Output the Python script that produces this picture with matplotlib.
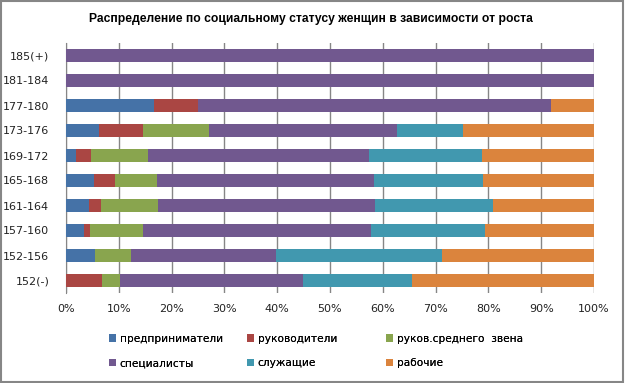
import matplotlib
matplotlib.use("Agg")
from matplotlib import pyplot as plt
from matplotlib.patches import Rectangle
import numpy as np

# height groups, bottom to top as drawn
groups = ["152(-)", "152-156", "157-160", "161-164", "165-168",
          "169-172", "173-176", "177-180", "181-184", "185(+)"]

series = ["предприниматели", "руководители", "руков.среднего  звена",
          "специалисты", "служащие", "рабочие"]

# shares in %, same order as groups
predprinimateli = [0.0, 5.5, 3.4, 4.4, 5.3, 1.9, 6.3, 16.6, 0, 0]
rukovoditeli = [6.8, 0.0, 1.2, 2.2, 4.0, 2.8, 8.3, 8.4, 0, 0]
ruk_sred = [3.4, 6.8, 10.0, 10.9, 8.0, 10.9, 12.5, 0.0, 0, 0]
specialisty = [34.6, 27.5, 43.1, 41.1, 41.1, 41.7, 35.5, 66.8, 100, 100]
sluzhashchie = [20.8, 31.5, 21.6, 22.2, 20.5, 21.4, 12.5, 0.0, 0, 0]
rabochie = [34.4, 28.7, 20.7, 19.2, 21.1, 21.3, 24.9, 8.2, 0, 0]

colors = ["#4572A7", "#AA4643", "#89A54E", "#71588F", "#4198AF", "#DB843D"]

data = [predprinimateli, rukovoditeli, ruk_sred, specialisty, sluzhashchie, rabochie]

W, H = 625, 383
fig = plt.figure(figsize=(W / 100, H / 100), dpi=100)
ax = fig.add_axes([66 / W, 1 - 293 / H, 528 / W, 250 / H])

y = np.arange(len(groups))
left = np.zeros(len(groups))
handles = []
for name, vals, c in zip(series, data, colors):
    vals = np.array(vals, dtype=float)
    h = ax.barh(y, vals, left=left, height=0.55, color=c, label=name, zorder=3)
    handles.append(h)
    left += vals

ax.set_xlim(0, 100)
ax.set_ylim(-0.5, len(groups) - 0.5)
ax.set_xticks(np.arange(0, 101, 10))
ax.set_xticklabels([f"{v}%" for v in range(0, 101, 10)], fontsize=8, color="#222222")
ax.set_yticks(y)
ax.set_yticklabels(groups, fontsize=8, color="#222222")
ax.tick_params(axis="y", length=0, pad=12)
ax.tick_params(axis="x", length=0, pad=8)
ax.grid(axis="x", color="#868686", linewidth=1.0, zorder=0)
for s in ["top", "right", "bottom"]:
    ax.spines[s].set_visible(False)
ax.spines["left"].set_color("#868686")

fig.text(311 / W, 1 - 19 / H, "Распределение по социальному статусу женщин в зависимости от роста",
         ha="center", va="center", fontsize=8.7, fontweight="bold",
         family=["Liberation Sans", "DejaVu Sans"])

# legend: three equal columns, two rows
col_x = [109, 247, 386]
for j, x0 in enumerate(col_x):
    leg = fig.legend([handles[j], handles[j + 3]], [series[j], series[j + 3]],
                     loc="center left", bbox_to_anchor=(x0 / W, 1 - 351 / H),
                     frameon=False, borderpad=0, borderaxespad=0,
                     fontsize=7.6, handlelength=0.7, handleheight=0.7,
                     handletextpad=0.3, labelspacing=1.35)
    fig.add_artist(leg)

fig.patches.append(Rectangle((0.002, 0.003), 0.995, 0.994, transform=fig.transFigure,
                             fill=False, edgecolor="#868686", linewidth=1.5))

fig.savefig("out.png", dpi=100)
